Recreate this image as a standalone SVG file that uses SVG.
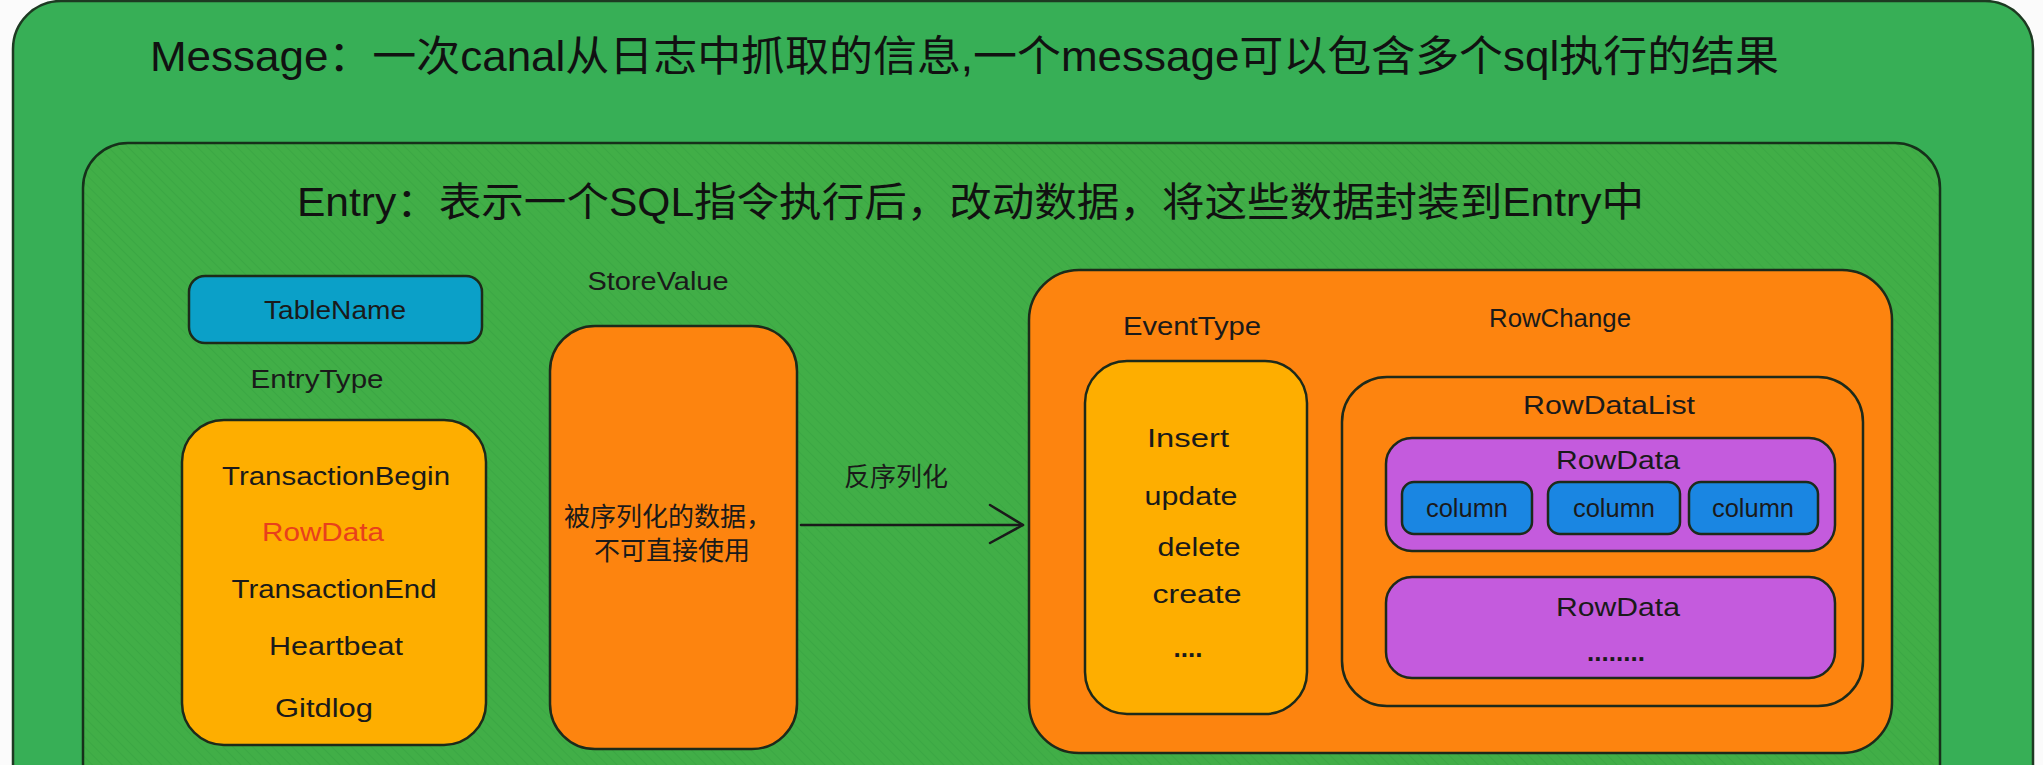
<svg xmlns="http://www.w3.org/2000/svg" width="2043" height="765" viewBox="0 0 2043 765">
<defs>
<pattern id="hatch" patternUnits="userSpaceOnUse" width="7" height="7" patternTransform="rotate(-45)">
<rect width="7" height="7" fill="#41ae47"/>
<line x1="0" y1="0" x2="0" y2="7" stroke="#39a543" stroke-width="1.5"/>
</pattern>
<style>
.box{stroke:#1d2a1a;stroke-width:2.5}
.outer{fill:#37af56;stroke:#1d3a22;stroke-width:2.5}
.entry{fill:url(#hatch);stroke:#16301a;stroke-width:2.5}
.orange{fill:#fd840f}
.yellow{fill:#feae00}
.purple{fill:#c45bdd}
.blue1{fill:#0ba0c8}
.blue2{fill:#1a86e2}
.t{font-family:"Liberation Sans","Noto Sans CJK SC",sans-serif;fill:#1a1a1a;text-anchor:middle;dominant-baseline:central;font-size:26px}
.title{font-family:"Liberation Sans","Noto Sans CJK SC",sans-serif;fill:#111;dominant-baseline:central}
.conn{stroke:#1a1a1a;stroke-width:2.5;fill:none;stroke-linecap:round;stroke-linejoin:round}
.dots{font-weight:bold}
</style>
</defs>
<rect x="0" y="0" width="2043" height="765" fill="#fbfbfb"/>

<g id="message">
<rect class="outer" x="13" y="1" width="2020" height="820" rx="48"/>
<text class="title" x="150" y="56" font-size="42" textLength="1629" lengthAdjust="spacingAndGlyphs">Message：一次canal从日志中抓取的信息,一个message可以包含多个sql执行的结果</text>
</g>

<g id="entry">
<rect class="entry" x="83" y="143" width="1857" height="680" rx="45"/>
<text class="title" x="297" y="202" font-size="40" textLength="1347" lengthAdjust="spacingAndGlyphs">Entry：表示一个SQL指令执行后，改动数据，将这些数据封装到Entry中</text>
</g>

<g id="tablename">
<rect class="box blue1" x="189" y="276" width="293" height="67" rx="16"/>
<text class="t" x="335" y="310" textLength="142" lengthAdjust="spacingAndGlyphs">TableName</text>
</g>

<g id="entrytype">
<text class="t" x="317" y="379" textLength="133" lengthAdjust="spacingAndGlyphs">EntryType</text>
<rect class="box yellow" x="182" y="420" width="304" height="325" rx="42"/>
<text class="t" x="336" y="476" textLength="228" lengthAdjust="spacingAndGlyphs">TransactionBegin</text>
<text class="t" x="323" y="532" textLength="122" lengthAdjust="spacingAndGlyphs" style="fill:#e8401c">RowData</text>
<text class="t" x="334" y="589" textLength="205" lengthAdjust="spacingAndGlyphs">TransactionEnd</text>
<text class="t" x="336" y="646" textLength="134" lengthAdjust="spacingAndGlyphs">Heartbeat</text>
<text class="t" x="324" y="708" textLength="98" lengthAdjust="spacingAndGlyphs">Gitdlog</text>
</g>

<g id="storevalue">
<text class="t" x="658" y="281" textLength="141" lengthAdjust="spacingAndGlyphs">StoreValue</text>
<rect class="box orange" x="550" y="326" width="247" height="423" rx="45"/>
<text class="t" x="668" y="517" font-size="25">被序列化的数据，</text>
<text class="t" x="672" y="551" font-size="25">不可直接使用</text>
</g>

<g id="connectors">
<path class="conn" d="M801 525 L1023 525"/>
<path class="conn" d="M990 505 L1023 525 L990 543"/>
<text class="t" x="896" y="477" font-size="26">反序列化</text>
</g>

<g id="rowchange">
<rect class="box orange" x="1029" y="270" width="863" height="483" rx="50"/>
<text class="t" x="1192" y="326" textLength="138" lengthAdjust="spacingAndGlyphs">EventType</text>
<text class="t" x="1560" y="318" textLength="142" lengthAdjust="spacingAndGlyphs">RowChange</text>
</g>

<g id="eventtype">
<rect class="box yellow" x="1085" y="361" width="222" height="353" rx="42"/>
<text class="t" x="1188" y="438" textLength="82" lengthAdjust="spacingAndGlyphs">Insert</text>
<text class="t" x="1191" y="496" textLength="93" lengthAdjust="spacingAndGlyphs">update</text>
<text class="t" x="1199" y="547" textLength="83" lengthAdjust="spacingAndGlyphs">delete</text>
<text class="t" x="1197" y="594" textLength="89" lengthAdjust="spacingAndGlyphs">create</text>
<text class="t dots" x="1188" y="648">....</text>
</g>

<g id="rowdatalist">
<rect class="box orange" x="1342" y="377" width="521" height="329" rx="45"/>
<text class="t" x="1609" y="405" textLength="172" lengthAdjust="spacingAndGlyphs">RowDataList</text>
</g>

<g id="rowdata1">
<rect class="box purple" x="1386" y="438" width="449" height="113" rx="26"/>
<text class="t" x="1618" y="460" textLength="124" lengthAdjust="spacingAndGlyphs">RowData</text>
</g>

<g id="column1">
<rect class="box blue2" x="1402" y="482" width="130" height="52" rx="12"/>
<text class="t" x="1467" y="508" textLength="82" lengthAdjust="spacingAndGlyphs">column</text>
</g>
<g id="column2">
<rect class="box blue2" x="1548" y="482" width="132" height="52" rx="12"/>
<text class="t" x="1614" y="508" textLength="82" lengthAdjust="spacingAndGlyphs">column</text>
</g>
<g id="column3">
<rect class="box blue2" x="1689" y="482" width="129" height="52" rx="12"/>
<text class="t" x="1753" y="508" textLength="82" lengthAdjust="spacingAndGlyphs">column</text>
</g>

<g id="rowdata2">
<rect class="box purple" x="1386" y="577" width="449" height="101" rx="26"/>
<text class="t" x="1618" y="607" textLength="124" lengthAdjust="spacingAndGlyphs">RowData</text>
<text class="t dots" x="1616" y="652">........</text>
</g>
</svg>
